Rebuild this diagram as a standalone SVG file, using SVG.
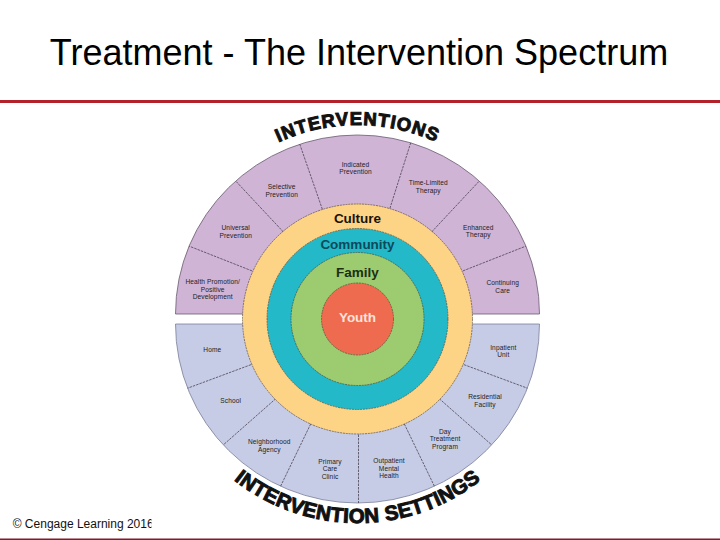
<svg xmlns="http://www.w3.org/2000/svg" width="720" height="540" viewBox="0 0 720 540">
<defs>
<style>
.seg{font-family:"Liberation Sans",Arial,sans-serif;font-size:6.6px;letter-spacing:0.1px;fill:#222;text-anchor:middle}
.ring{font-family:"Liberation Sans",Arial,sans-serif;font-size:13.5px;font-weight:bold;text-anchor:middle}
.arc{font-family:"Liberation Sans",Arial,sans-serif;font-weight:bold;fill:#111;stroke:#111;stroke-width:1;text-anchor:middle}
.div{stroke:#3a3040;stroke-width:0.7;stroke-dasharray:2.5 1;fill:none}
.circ{stroke:#4a3a30;stroke-width:0.6;stroke-dasharray:2 0.8}
</style>
<path id="topArc" d="M 168.5 314 A 189 189 0 0 1 546.5 314"/>
<path id="botArc" d="M 158.5 324 A 199 199 0 0 0 556.5 324"/>
<clipPath id="footClip"><rect x="0" y="505" width="151.5" height="30"/></clipPath>
</defs>
<rect width="720" height="540" fill="#fff"/>
<g id="title">
<text x="359" y="64.5" font-family="Liberation Sans, Arial, sans-serif" font-size="36" fill="#000" text-anchor="middle">Treatment - The Intervention Spectrum</text>
<rect x="0" y="100" width="720" height="3" fill="#b22228"/>
</g>
<g id="interventions-half">
<path d="M 175.5 314 A 182 179 0 0 1 539.5 314 Z" fill="#cfb4d6" stroke="#6a5a70" stroke-width="0.8"/>
</g>
<g id="settings-half">
<path d="M 175.5 324 A 182 179 0 0 0 539.5 324 Z" fill="#c7cce6" stroke="#7a7f99" stroke-width="0.8"/>
</g>
<g id="dividers">
<line class="div" x1="265" y1="276" x2="189.1" y2="246.1"/>
<line class="div" x1="290.6" y1="239.7" x2="235.7" y2="181"/>
<line class="div" x1="325.8" y1="219.2" x2="299.8" y2="144.3"/>
<line class="div" x1="386.7" y1="218.4" x2="410.7" y2="142.8"/>
<line class="div" x1="424.4" y1="239.7" x2="479.3" y2="181"/>
<line class="div" x1="450" y1="276" x2="525.9" y2="246.1"/>
<line class="div" x1="264.1" y1="359.8" x2="187.6" y2="388.2"/>
<line class="div" x1="283.8" y1="391.6" x2="223.3" y2="444.9"/>
<line class="div" x1="315.2" y1="414.6" x2="280.6" y2="486.2"/>
<line class="div" x1="358.5" y1="424" x2="358.5" y2="503" stroke="#8a90b0"/>
<line class="div" x1="399.8" y1="414.6" x2="434.4" y2="486.2"/>
<line class="div" x1="431.2" y1="391.6" x2="491.7" y2="444.9"/>
<line class="div" x1="450.9" y1="359.8" x2="527.4" y2="388.2"/>
</g>
<g id="culture"><circle class="circ" cx="357.5" cy="319" r="115" fill="#fdd385"/><text class="ring" x="357.5" y="223" fill="#1a1206">Culture</text></g>
<g id="community"><circle class="circ" cx="357.5" cy="319" r="90.5" fill="#23b9c8"/><text class="ring" x="357.5" y="249" fill="#0b4a5a">Community</text></g>
<g id="family"><circle class="circ" cx="357.5" cy="319" r="66.5" fill="#9dcb6f"/><text class="ring" x="357.5" y="276.5" fill="#1e2e12">Family</text></g>
<g id="youth"><circle class="circ" cx="357.5" cy="319" r="36" fill="#ef6b4f"/><text class="ring" x="357.5" y="321.5" fill="#fbe3dc">Youth</text></g>
<g id="indicated-prevention"><text class="seg" x="355.5" y="166.5">Indicated<tspan x="355.5" dy="7.5">Prevention</tspan></text></g>
<g id="selective-prevention"><text class="seg" x="281.7" y="189">Selective<tspan x="281.7" dy="7.5">Prevention</tspan></text></g>
<g id="universal-prevention"><text class="seg" x="235.7" y="230">Universal<tspan x="235.7" dy="7.5">Prevention</tspan></text></g>
<g id="health-promotion"><text class="seg" x="212.7" y="284">Health Promotion/<tspan x="212.7" dy="7.5">Positive</tspan><tspan x="212.7" dy="7.5">Development</tspan></text></g>
<g id="time-limited-therapy"><text class="seg" x="428.3" y="185">Time-Limited<tspan x="428.3" dy="7.5">Therapy</tspan></text></g>
<g id="enhanced-therapy"><text class="seg" x="478.3" y="229.5">Enhanced<tspan x="478.3" dy="7.5">Therapy</tspan></text></g>
<g id="continuing-care"><text class="seg" x="502.7" y="285">Continuing<tspan x="502.7" dy="7.5">Care</tspan></text></g>
<g id="home"><text class="seg" x="212.3" y="351.5">Home</text></g>
<g id="school"><text class="seg" x="230.7" y="403">School</text></g>
<g id="neighborhood-agency"><text class="seg" x="269.3" y="444">Neighborhood<tspan x="269.3" dy="7.5">Agency</tspan></text></g>
<g id="primary-care-clinic"><text class="seg" x="330" y="463.5">Primary<tspan x="330" dy="7.5">Care</tspan><tspan x="330" dy="7.5">Clinic</tspan></text></g>
<g id="outpatient-mental-health"><text class="seg" x="389" y="463">Outpatient<tspan x="389" dy="7.5">Mental</tspan><tspan x="389" dy="7.5">Health</tspan></text></g>
<g id="day-treatment-program"><text class="seg" x="445" y="433.5">Day<tspan x="445" dy="7.5">Treatment</tspan><tspan x="445" dy="7.5">Program</tspan></text></g>
<g id="residential-facility"><text class="seg" x="485" y="399">Residential<tspan x="485" dy="7.5">Facility</tspan></text></g>
<g id="inpatient-unit"><text class="seg" x="503.3" y="349.5">Inpatient<tspan x="503.3" dy="7.5">Unit</tspan></text></g>
<g id="arc-labels">
<text class="arc" font-size="18.5" letter-spacing="1"><textPath href="#topArc" startOffset="50%">INTERVENTIONS</textPath></text>
<text class="arc" font-size="20.5" letter-spacing="0.3"><textPath href="#botArc" startOffset="50%">INTERVENTION SETTINGS</textPath></text>
</g>
<g id="footer">
<text x="12.7" y="528" font-family="Liberation Sans, Arial, sans-serif" font-size="12" fill="#111" clip-path="url(#footClip)">© Cengage Learning 2016</text>
<rect x="0" y="538.5" width="720" height="1.5" fill="#7d1c2c"/>
</g>
</svg>
